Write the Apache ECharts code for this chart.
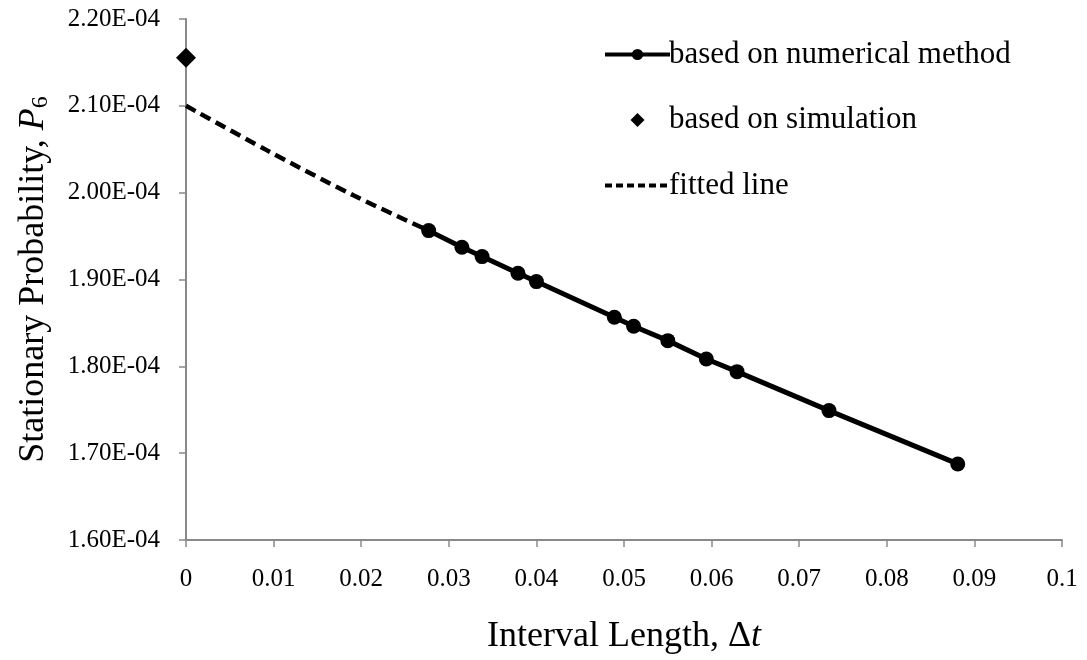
<!DOCTYPE html>
<html>
<head>
<meta charset="utf-8">
<script src="https://cdn.jsdelivr.net/npm/echarts@6/dist/echarts.min.js"></script>
<style>html,body{margin:0;padding:0;background:#fff;}#c{width:1087px;height:660px;}</style>
</head>
<body>
<div id="c"></div>
<script>
// Data
var numX = [0.0277, 0.0315, 0.0338, 0.0379, 0.0400, 0.0489, 0.0511, 0.0550, 0.0594, 0.0629, 0.0734, 0.0881];
var numY = [1.9563e-4, 1.9372e-4, 1.9264e-4, 1.9072e-4, 1.8976e-4, 1.8566e-4, 1.8462e-4, 1.8296e-4, 1.8085e-4, 1.7939e-4, 1.7490e-4, 1.6876e-4];
var simX = [0];
var simY = [2.1553e-4];
var fitX = [0, 0.0092, 0.0191, 0.0277];
var fitY = [2.100e-4, 2.049e-4, 1.997e-4, 1.9563e-4];
var seriesNames = ['based on numerical method', 'based on simulation', 'fitted line'];

function pairs(xs, ys) { return xs.map(function (x, i) { return [x, ys[i]]; }); }

var FONT = '"Liberation Serif", "Times New Roman", serif';
var chart = echarts.init(document.getElementById('c'), null, {renderer: 'canvas'});
chart.setOption({
  animation: false,
  backgroundColor: '#ffffff',
  textStyle: {fontFamily: FONT, color: '#000'},
  grid: {left: 186, right: 25, top: 19, bottom: 119, containLabel: false},
  legend: {
    orient: 'vertical',
    left: 598,
    top: 34,
    itemWidth: 65,
    itemHeight: 14,
    itemGap: 34.5,
    data: [
      {name: seriesNames[0], lineStyle: {width: 4, color: '#000'}, itemStyle: {color: '#000'}},
      {name: seriesNames[1], icon: 'path://M0,-1L1,0L0,1L-1,0Z', itemStyle: {color: '#000', opacity: 1}},
      {name: seriesNames[2], lineStyle: {width: 4, color: '#000', type: [7, 4]}, itemStyle: {color: 'rgba(0,0,0,0)', opacity: 0, borderWidth: 0}}
    ],
    textStyle: {fontFamily: FONT, fontSize: 31, color: '#000', padding: [0, 0, 0, -6]}
  },
  xAxis: {
    type: 'value',
    min: 0, max: 0.1, interval: 0.01,
    name: 'Interval Length, Δ{i|t}',
    nameLocation: 'middle',
    nameGap: 79,
    nameTextStyle: {
      fontFamily: FONT, fontSize: 36, color: '#000',
      rich: {i: {fontFamily: FONT, fontSize: 36, fontStyle: 'italic', color: '#000'}}
    },
    axisLine: {show: true, lineStyle: {color: '#898989', width: 2}},
    axisTick: {show: true, length: 7, lineStyle: {color: '#898989', width: 1.5}},
    splitLine: {show: false},
    axisLabel: {
      fontFamily: FONT, fontSize: 25, color: '#000', margin: 27,
      formatter: function (v) { return String(Math.round(v * 100) / 100); }
    }
  },
  yAxis: {
    type: 'value',
    min: 1.6e-4, max: 2.2e-4, interval: 1e-5,
    name: 'Stationary Probability, {i|P}{s|6}',
    nameLocation: 'middle',
    nameGap: 133,
    nameRotate: 90,
    nameTextStyle: {
      fontFamily: FONT, fontSize: 36, color: '#000',
      rich: {
        i: {fontFamily: FONT, fontSize: 36, fontStyle: 'italic', color: '#000'},
        s: {fontFamily: FONT, fontSize: 24, color: '#000', padding: [14, 0, 0, 0]}
      }
    },
    axisLine: {show: true, lineStyle: {color: '#898989', width: 2}},
    axisTick: {show: true, length: 7, lineStyle: {color: '#898989', width: 1.5}},
    splitLine: {show: false},
    axisLabel: {
      fontFamily: FONT, fontSize: 25, color: '#000', margin: 26,
      formatter: function (v) { return v.toExponential(2).toUpperCase().replace('E-', 'E-0'); }
    }
  },
  series: [
    {
      name: seriesNames[2],
      type: 'line',
      data: pairs(fitX, fitY),
      smooth: 0.3,
      showSymbol: false,
      symbol: 'none',
      lineStyle: {color: '#000', width: 4.5, type: [11, 6]},
      itemStyle: {color: '#000'},
      z: 2
    },
    {
      name: seriesNames[0],
      type: 'line',
      data: pairs(numX, numY),
      symbol: 'circle',
      symbolSize: 15,
      lineStyle: {color: '#000', width: 5},
      itemStyle: {color: '#000'},
      z: 3
    },
    {
      name: seriesNames[1],
      type: 'scatter',
      data: pairs(simX, simY),
      symbol: 'diamond',
      symbolSize: [20, 20],
      itemStyle: {color: '#000', opacity: 1},
      z: 4
    }
  ]
});
</script>
</body>
</html>
